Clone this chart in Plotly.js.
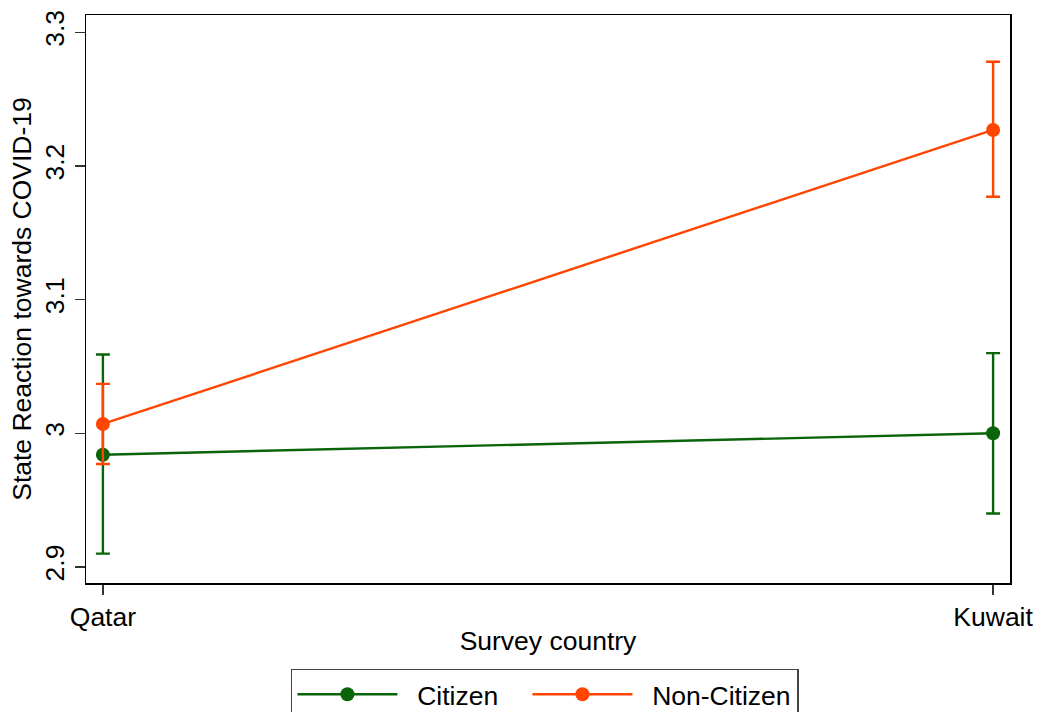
<!DOCTYPE html>
<html>
<head>
<meta charset="utf-8">
<script src="https://cdn.plot.ly/plotly-3.0.1.min.js"></script>
<style>
  html, body { margin: 0; padding: 0; background: #fff; }
  #chart { width: 1039px; height: 712px; }
</style>
</head>
<body>
<div id="chart"></div>
<script>
// Predictive margins by survey country and citizenship, with 95% CIs
const countries = ['Qatar', 'Kuwait'];

const citizenMean  = [2.984, 3.000];
const citizenLow   = [2.910, 2.940];
const citizenHigh  = [3.059, 3.060];

const nonCitizenMean = [3.007, 3.227];
const nonCitizenLow  = [2.977, 3.177];
const nonCitizenHigh = [3.037, 3.278];

const yTickVals  = [2.9, 3.0, 3.1, 3.2, 3.3];
const yTickText  = ['2.9', '3', '3.1', '3.2', '3.3'];

const green  = '#0a640a';
const orange = '#ff4500';
const font = 'Arial, "Liberation Sans", sans-serif';

function errUp(mean, high) { return high.map((h, i) => h - mean[i]); }
function errDown(mean, low) { return low.map((l, i) => mean[i] - l); }

function series(name, mean, low, high, color, entryWidth) {
  return {
    type: 'scatter',
    mode: 'lines+markers',
    // leading non-breaking spaces widen the gap between legend symbol and label
    name: '\u00a0\u00a0' + name,
    legendwidth: entryWidth,
    x: countries,
    y: mean,
    line: { color: color, width: 2.4 },
    marker: { color: color, size: 14 },
    error_y: {
      type: 'data',
      symmetric: false,
      array: errUp(mean, high),
      arrayminus: errDown(mean, low),
      color: color,
      thickness: 2.4,
      width: 7
    }
  };
}

const data = [
  series('Citizen', citizenMean, citizenLow, citizenHigh, green, 120),
  series('Non-Citizen', nonCitizenMean, nonCitizenLow, nonCitizenHigh, orange, 155)
];

const layout = {
  width: 1039,
  height: 712,
  margin: { l: 86, r: 29, t: 15, b: 129, autoexpand: false },
  paper_bgcolor: '#fff',
  plot_bgcolor: '#fff',
  font: { family: font, size: 26, color: '#000' },
  showlegend: true,
  xaxis: {
    type: 'category',
    categoryorder: 'array',
    categoryarray: countries,
    range: [-0.019, 1.019],
    showgrid: false,
    zeroline: false,
    showline: true,
    mirror: true,
    linecolor: '#000',
    linewidth: 1.5,
    ticks: 'outside',
    ticklen: 10,
    tickwidth: 1.5,
    tickcolor: '#333',
    tickfont: { family: font, size: 26.5, color: '#000' },
    title: { text: 'Survey country', font: { family: font, size: 26.5, color: '#000' }, standoff: 0 }
  },
  yaxis: {
    range: [2.888, 3.313],
    tickmode: 'array',
    tickvals: yTickVals,
    ticktext: yTickText,
    tickangle: -90,
    showgrid: false,
    zeroline: false,
    showline: true,
    mirror: true,
    linecolor: '#000',
    linewidth: 1.5,
    ticks: 'outside',
    ticklen: 10,
    tickwidth: 1.5,
    tickcolor: '#333',
    tickfont: { family: font, size: 26.5, color: '#000' },
    title: { text: 'State Reaction towards COVID-19', font: { family: font, size: 26.5, color: '#000' }, standoff: 0 }
  },
  legend: {
    orientation: 'h',
    xref: 'container',
    yref: 'container',
    x: 0.28,
    xanchor: 'left',
    y: 0.0604,
    yanchor: 'top',
    bordercolor: '#444',
    borderwidth: 1.5,
    bgcolor: '#fff',
    itemwidth: 100,
    font: { family: font, size: 26.5, color: '#000' }
  }
};

Plotly.newPlot('chart', data, layout, { displayModeBar: false, staticPlot: true });
</script>
</body>
</html>
